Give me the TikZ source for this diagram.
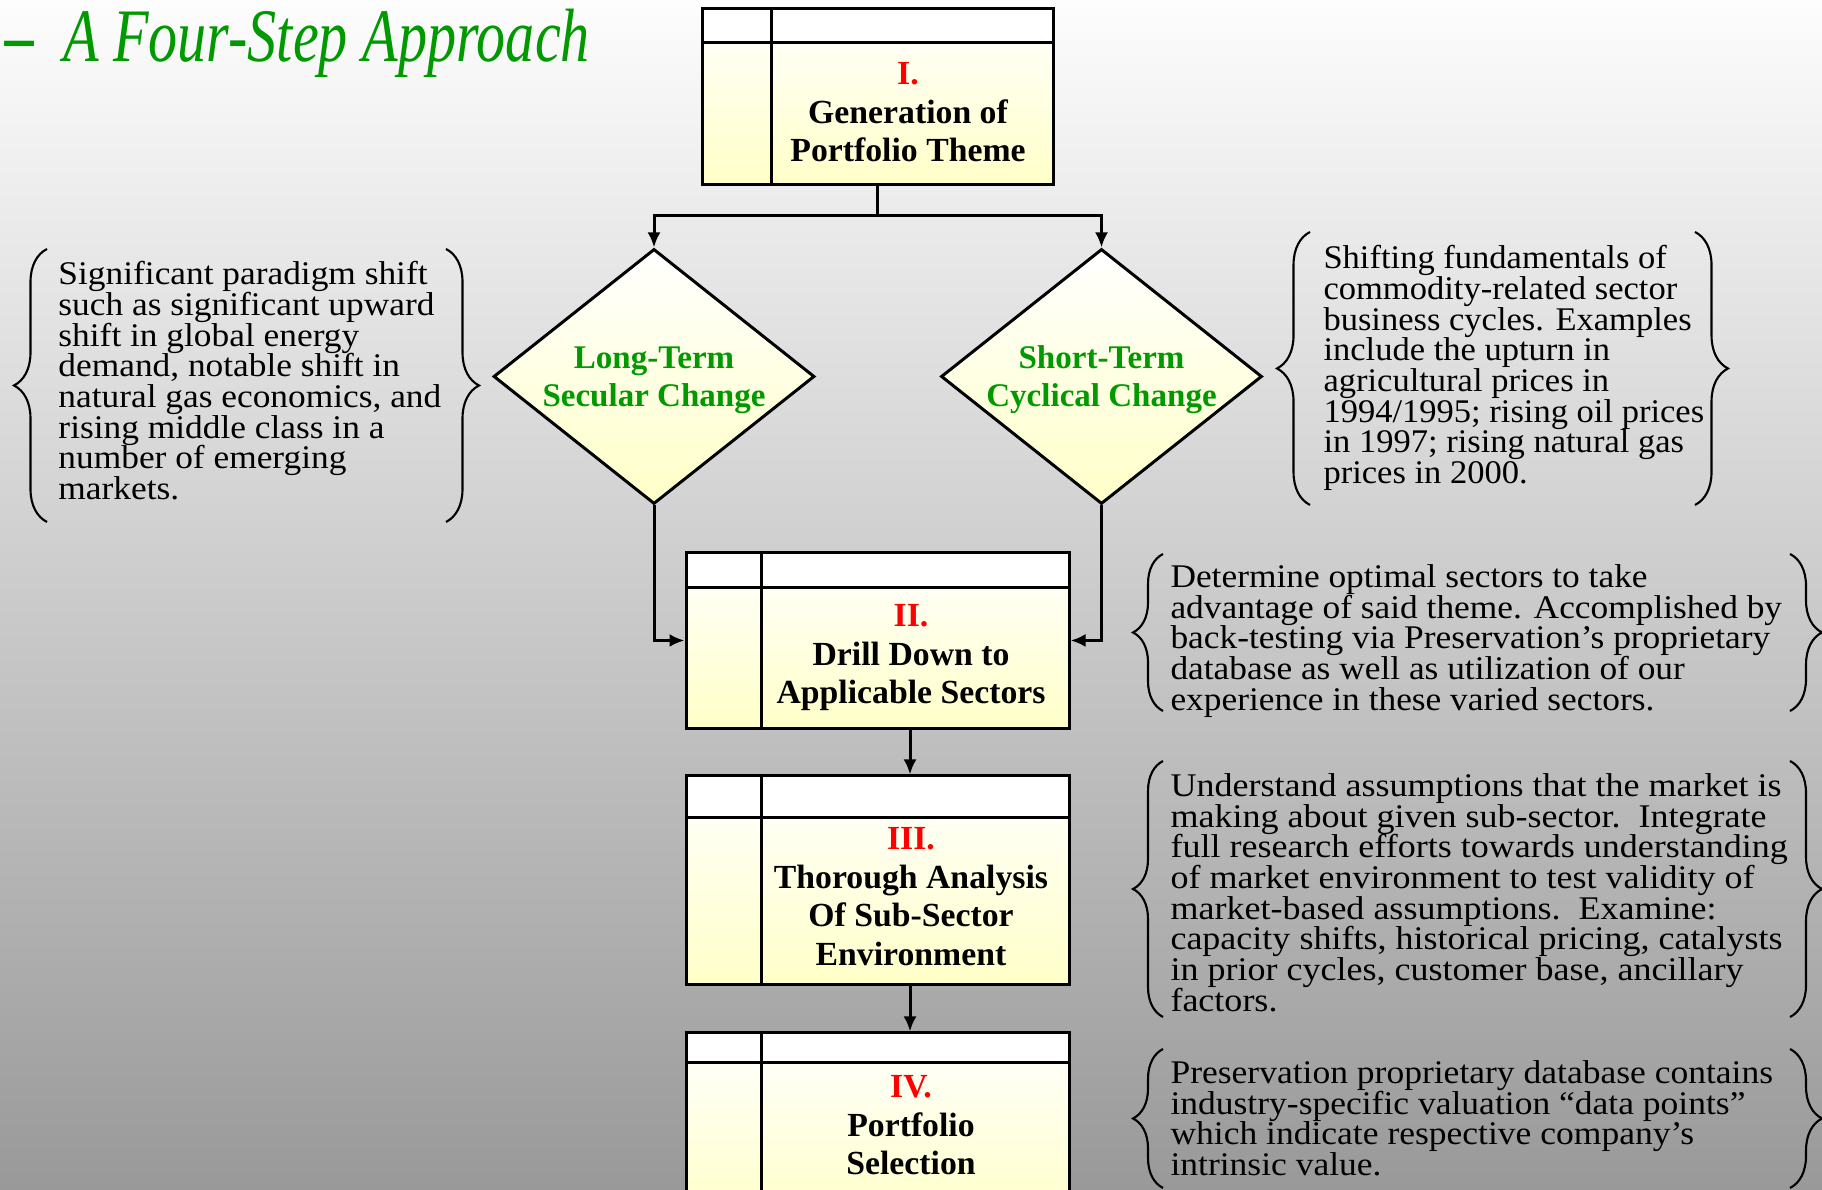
\documentclass[tikz,border=0pt]{standalone}
\usepackage{fontspec}
\setmainfont{Liberation Serif}
\usetikzlibrary{shapes.geometric,arrows.meta,decorations.pathreplacing}
\definecolor{stepgreen}{RGB}{0,153,0}
\definecolor{paleyellow}{RGB}{255,255,200}
\definecolor{bgtop}{RGB}{253,253,253}
\definecolor{bgbottom}{RGB}{153,153,153}
\newcommand{\stepno}[1]{\textcolor{red}{#1}}
\tikzset{
  stepbox/.style 2 args={draw, line width=0.85pt, top color=white, bottom color=paleyellow, inner sep=0pt,
    path picture={
      \fill[white] (path picture bounding box.north west) rectangle ([yshift=-#1]path picture bounding box.north east);
      \draw[line width=0.85pt] ([yshift=-#1]path picture bounding box.north west) -- ([yshift=-#1]path picture bounding box.north east);
      \draw[line width=0.85pt] ([xshift=#2]path picture bounding box.north west) -- ([xshift=#2]path picture bounding box.south west);
    }},
  steptext/.style={align=center, inner sep=0pt, font=\fontsize{9.6}{10.95}\selectfont\bfseries},
  choice/.style={diamond, draw, line width=0.85pt, top color=white, bottom color=paleyellow, inner sep=0pt,
    minimum width=3.21cm, minimum height=2.55cm},
  choicetext/.style={align=center, inner sep=0pt, text=stepgreen, font=\fontsize{9.4}{10.8}\selectfont\bfseries},
  notetext/.style={anchor=north west, align=left, inner sep=0pt,
    font=\fontsize{9.4}{8.73}\selectfont\addfontfeature{FakeStretch=#1}},
  notetext/.default=1.07,
  notebrace/.style={decorate, decoration={brace, amplitude=#1}, line width=0.6pt},
}
\begin{document}
\begin{tikzpicture}[>={Latex[length=1.5mm,width=1.3mm]}, line width=0.85pt]
\useasboundingbox (0,0) rectangle (18.22,11.90);
\clip (0,0) rectangle (18.22,11.90);
\shade[top color=bgtop, bottom color=bgbottom] (0,0) rectangle (18.22,11.90);

% title
\node[anchor=base west, inner sep=0pt, text=stepgreen,
  font=\fontsize{21.5}{24}\selectfont\itshape\addfontfeature{FakeStretch=0.77}] (title) at (0.04,11.28)
  {\textbf{--}\hspace{4pt} A Four-Step Approach};

% the four steps
\node[stepbox={0.34cm}{0.69cm}, minimum width=3.51cm, minimum height=1.76cm] (b1) at (8.775,10.93) {};
\node[stepbox={0.35cm}{0.75cm}, minimum width=3.83cm, minimum height=1.76cm] (b2) at (8.775,5.495) {};
\node[stepbox={0.42cm}{0.75cm}, minimum width=3.83cm, minimum height=2.09cm] (b3) at (8.775,3.095) {};
\node[stepbox={0.30cm}{0.75cm}, minimum width=3.83cm, minimum height=1.90cm] (b4) at (8.775,0.62) {};

\node[steptext] (t1) at (9.08,10.777) {\stepno{I.}\\Generation of\\Portfolio Theme};
\node[steptext] (t2) at (9.11,5.322) {\stepno{II.}\\Drill Down to\\Applicable Sectors};
\node[steptext] (t3) at (9.11,2.935) {\stepno{III.}\\Thorough Analysis\\Of Sub-Sector\\Environment};
\node[steptext] (t4) at (9.11,0.647) {\stepno{IV.}\\Portfolio\\Selection};

% the two kinds of change
\node[choice] (d1) at (6.54,8.135) {};
\node[choice] (d2) at (11.015,8.135) {};
\node[choicetext] (c1) at ([yshift=-0.35mm]d1.center) {Long-Term\\Secular Change};
\node[choicetext] (c2) at ([yshift=-0.35mm]d2.center) {Short-Term\\Cyclical Change};

% connectors
\coordinate (split) at (8.775,9.74);
\draw (b1.south) -- (split);
\draw[->] (split) -| (d1.north);
\draw[->] (split) -| (d2.north);
\draw[->] (d1.south) |- (b2.west);
\draw[->] (d2.south) |- (b2.east);
\draw[->] ([xshift=0.325cm]b2.south) -- ([xshift=0.325cm]b3.north);
\draw[->] ([xshift=0.325cm]b3.south) -- ([xshift=0.325cm]b4.north);

% notes
\node[notetext] (n1) at (0.57,9.30) {Significant paradigm shift\\such as significant upward\\shift in global energy\\demand, notable shift in\\natural gas economics, and\\rising middle class in a\\number of emerging\\markets.};
\draw[notebrace=0.33cm] (0.47,6.68) -- (0.47,9.41);
\draw[notebrace=0.33cm] (4.46,9.41) -- (4.46,6.68);

\node[notetext=1.045] (n2) at (13.22,9.46) {Shifting fundamentals of\\commodity-related sector\\business cycles. Examples\\include the upturn in\\agricultural prices in\\1994/1995; rising oil prices\\in 1997; rising natural gas\\prices in 2000.};
\draw[notebrace=0.33cm] (13.10,6.85) -- (13.10,9.58);
\draw[notebrace=0.33cm] (16.95,9.58) -- (16.95,6.85);

\node[notetext] (n3) at (11.69,6.27) {Determine optimal sectors to take\\advantage of said theme. Accomplished by\\back-testing via Preservation's proprietary\\database as well as utilization of our\\experience in these varied sectors.};
\draw[notebrace=0.30cm] (11.63,4.79) -- (11.63,6.36);
\draw[notebrace=0.32cm] (17.90,6.36) -- (17.90,4.79);

\node[notetext=1.09] (n4) at (11.69,4.18) {Understand assumptions that the market is\\making about given sub-sector.\ \ Integrate\\full research efforts towards understanding\\of market environment to test validity of\\market-based assumptions.\ \ Examine:\\capacity shifts, historical pricing, catalysts\\in prior cycles, customer base, ancillary\\factors.};
\draw[notebrace=0.30cm] (11.63,1.73) -- (11.63,4.29);
\draw[notebrace=0.32cm] (17.90,4.29) -- (17.90,1.73);

\node[notetext=1.075] (n5) at (11.69,1.31) {Preservation proprietary database contains\\industry-specific valuation ``data points''\\which indicate respective company's\\intrinsic value.};
\draw[notebrace=0.30cm] (11.63,0.02) -- (11.63,1.41);
\draw[notebrace=0.32cm] (17.90,1.41) -- (17.90,0.02);
\end{tikzpicture}
\end{document}
